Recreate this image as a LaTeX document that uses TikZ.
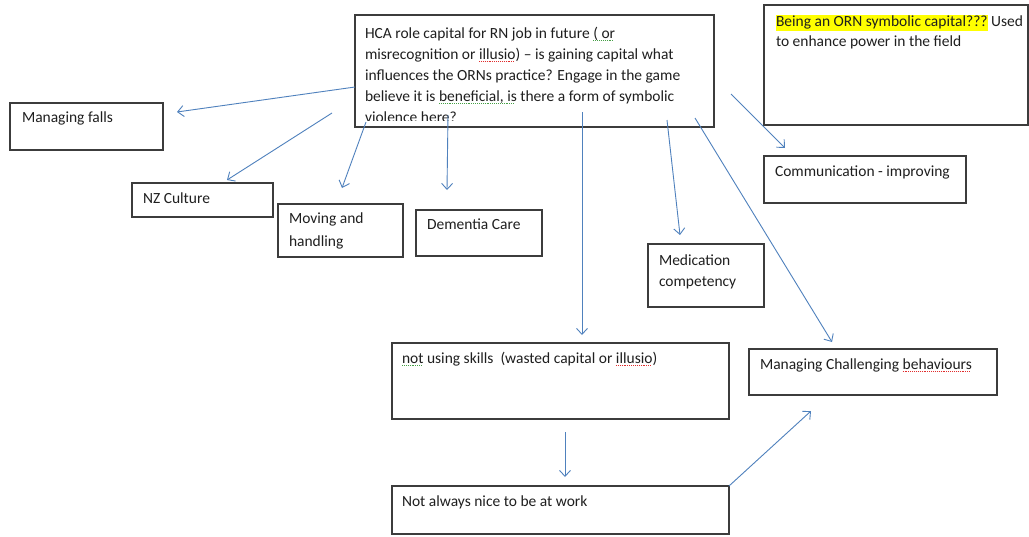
\documentclass[tikz,border=0pt]{standalone}
\usepackage{fontspec}
\setmainfont{Carlito}
\usetikzlibrary{arrows.meta,calc}

\definecolor{linkblue}{RGB}{79,129,189}
\definecolor{boxgray}{RGB}{60,60,60}
\definecolor{spellred}{RGB}{225,45,45}
\definecolor{spellgreen}{RGB}{70,160,70}
\definecolor{marker}{RGB}{255,255,0}

% dotted proofing underlines
\newcommand\dotunder[2]{{\setbox0\hbox{#2}%
  \rlap{\textcolor{#1}{\leaders\hbox{\rule[-2.6pt]{1pt}{0.8pt}\kern0.9pt}\hskip\wd0}}\box0}}
\newcommand\wavered[1]{\dotunder{spellred}{#1}}
\newcommand\wavegreen[1]{\dotunder{spellgreen}{#1}}
% yellow text highlight
\newcommand\hilite[1]{{\setlength{\fboxsep}{0pt}\colorbox{marker}{\rule[-4pt]{0pt}{16pt}#1}}}

\begin{document}
\begin{tikzpicture}[x=1pt,y=-1pt,
  box/.style={draw=boxgray,line width=1.2pt,inner sep=0pt,outer sep=0pt,anchor=north west},
  txt/.style={inner sep=0pt,outer sep=0pt,text=black!88,font=\fontsize{15.5}{21}\selectfont,align=left},
  arr/.style={draw=linkblue,line width=0.9pt,-{Straight Barb[length=6pt,width=11pt]}}]

\useasboundingbox[fill=white] (0,0) rectangle (1029,536);

% boxes
\node[box,minimum width=359pt,minimum height=112pt] (hca) at (355,15) {};
\node[box,minimum width=264pt,minimum height=120pt] (orn) at (764,5) {};
\node[box,minimum width=153pt,minimum height=47pt] (falls) at (10,103) {};
\node[box,minimum width=141pt,minimum height=34pt] (nz) at (132,183) {};
\node[box,minimum width=125pt,minimum height=53pt] (moving) at (278,204) {};
\node[box,minimum width=126pt,minimum height=46pt] (dementia) at (416,210) {};
\node[box,minimum width=116pt,minimum height=63pt] (medication) at (648,244) {};
\node[box,minimum width=202pt,minimum height=47pt] (comm) at (764,156) {};
\node[box,minimum width=248pt,minimum height=46pt] (challenging) at (749,349) {};
\node[box,minimum width=337pt,minimum height=76pt] (notusing) at (392,343) {};
\node[box,minimum width=337pt,minimum height=48pt] (nice) at (392,486) {};

% box texts
\begin{scope}
  \clip (356,16) rectangle (713,120.5);
  \node[txt,anchor=north west] (hcatext) at (365,23.6) {\strut HCA role capital for RN job in future \wavegreen{( or}\\
    misrecognition or \wavered{illusio}) – is gaining capital what\\
    influences the ORNs practice? Engage in the game\\
    believe it is \wavegreen{beneficial, is} there a form of symbolic\\
    violence here?};
\end{scope}
\node[txt,anchor=north west,font=\fontsize{15.5}{20}\selectfont] (orntext) at (776,12.7)
  {\strut\hilite{Being an ORN symbolic capital???} Used\\ to enhance power in the field};
\node[txt,anchor=base west] (fallstext) at (22,122) {Managing falls};
\node[txt,anchor=base west] (nztext) at (143,203) {NZ Culture};
\node[txt,anchor=north west,font=\fontsize{15.5}{23}\selectfont] (movingtext) at (289,207.2) {\strut Moving and\\ handling};
\node[txt,anchor=base west] (dementiatext) at (427,229) {Dementia Care};
\node[txt,anchor=north west] (medicationtext) at (659,251) {\strut Medication\\ competency};
\node[txt,anchor=base west] (commtext) at (775,176) {Communication - improving};
\node[txt,anchor=base west] (challengingtext) at (760,369) {Managing Challenging \wavered{behaviours}};
\node[txt,anchor=base west] (notusingtext) at (402,363) {\wavegreen{not} using skills~ (wasted capital or \wavered{illusio})};
\node[txt,anchor=base west] (nicetext) at (402,506) {Not always nice to be at work};

% connectors
\draw[arr] ($(hca.north west)+(0,72)$) -- ($(falls.north east)+(14,9)$);
\draw[arr] ($(hca.north west)+(-23,98)$) -- ($(nz.north west)+(95,-3)$);
\draw[arr] ($(hca.south west)+(11,-5)$) -- ($(moving.north west)+(64,-16)$);
\draw[arr] ($(hca.south west)+(93,-12)$) -- ($(dementia.north west)+(31,-20)$);
\draw[arr] ($(hca.south west)+(227,-15)$) -- ($(notusing.north west)+(190,-8)$);
\draw[arr] ($(hca.south east)+(-47,-7)$) -- ($(medication.north west)+(32,-9)$);
\draw[arr] ($(hca.south east)+(-19,-9)$) -- ($(challenging.north west)+(83,-7)$);
\draw[arr] ($(hca.south east)+(17,-33)$) -- ($(comm.north west)+(21,-8)$);
\draw[arr] ($(notusing.south west)+(173,13)$) -- ($(nice.north west)+(173,-9)$);
\draw[arr] (nice.north east) -- ($(challenging.south west)+(62,16)$);

\end{tikzpicture}
\end{document}
